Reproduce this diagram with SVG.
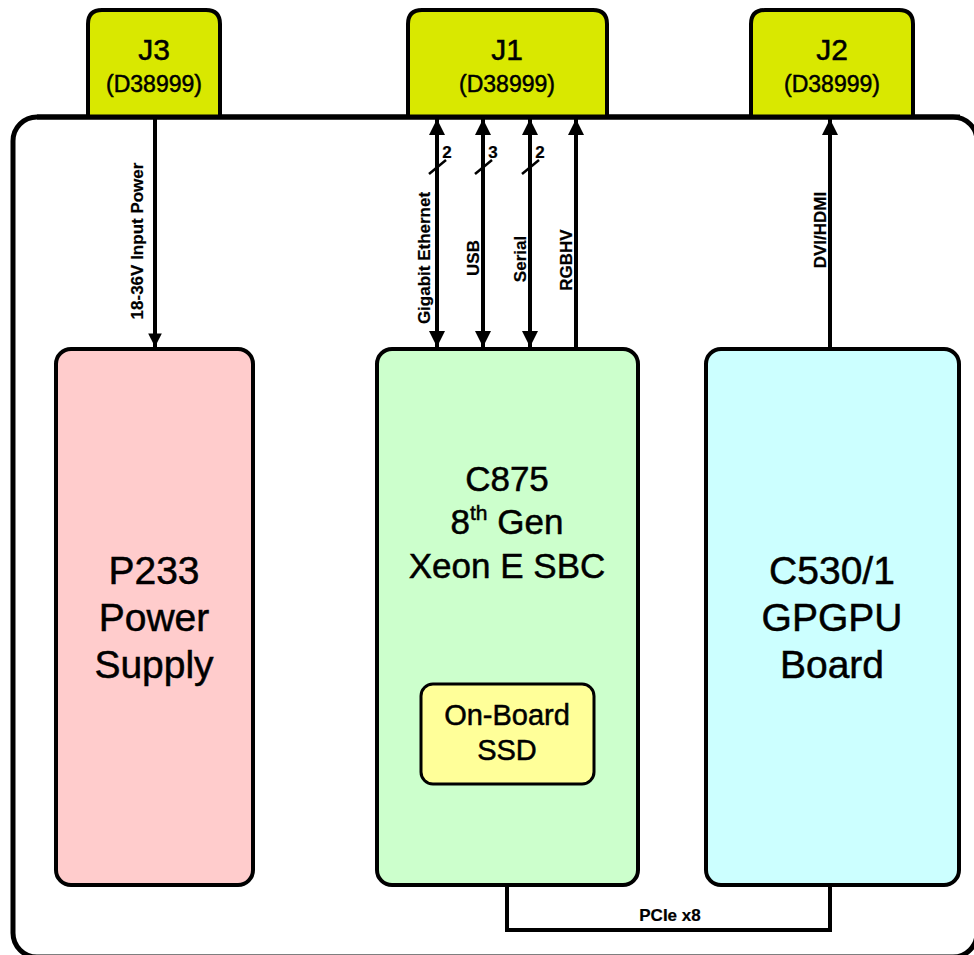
<svg xmlns="http://www.w3.org/2000/svg" width="974" height="955" viewBox="0 0 974 955">
<defs>
<marker id="ah" viewBox="0 0 10 10" refX="10" refY="5" markerWidth="4" markerHeight="4" orient="auto-start-reverse" markerUnits="strokeWidth"><path d="M0,0 L10,5 L0,10 z" fill="#000"/></marker>
<marker id="ah2" viewBox="0 0 10 10" refX="10" refY="5" markerWidth="3.4" markerHeight="3.4" orient="auto-start-reverse" markerUnits="strokeWidth"><path d="M0,0 L10,5 L0,10 z" fill="#000"/></marker>
</defs>
<style>
text{font-family:"Liberation Sans",Arial,sans-serif;fill:#000;stroke:#000;stroke-width:0.5}
.box{stroke:#000;stroke-width:4}
.conn{fill:#d9e800;stroke:#000;stroke-width:4}
.big{font-size:39px;text-anchor:middle}
.mid{font-size:35px;text-anchor:middle}
.jl{font-size:30px;text-anchor:middle}
.js{font-size:23px;text-anchor:middle}
.lab{font-size:17px;font-weight:bold;text-anchor:middle;stroke-width:0.2}
.wire{stroke:#000;stroke-width:4;fill:none}
</style>
<rect width="974" height="955" fill="#fff"/>
<g id="enclosure"><rect x="13" y="117" width="964" height="840" rx="24" fill="none" stroke="#000" stroke-width="5"/></g>
<g id="J3"><path class="conn" d="M88,117 V24 Q88,10 102,10 H206 Q220,10 220,24 V117"/><text class="jl" x="154" y="60">J3</text><text class="js" x="154" y="92">(D38999)</text></g>
<g id="J1"><path class="conn" d="M408,117 V24 Q408,10 422,10 H593 Q607,10 607,24 V117"/><text class="jl" x="507" y="60">J1</text><text class="js" x="507" y="92">(D38999)</text></g>
<g id="J2"><path class="conn" d="M751,117 V24 Q751,10 765,10 H899 Q913,10 913,24 V117"/><text class="jl" x="832" y="60">J2</text><text class="js" x="832" y="92">(D38999)</text></g>
<path d="M13,117 H960" stroke="#000" stroke-width="5" stroke-dasharray="0 24 936 100"/>
<g id="P233"><rect class="box" x="56" y="349" width="197" height="536" rx="15" fill="#ffcccc"/><text class="big" x="154" y="584">P233</text><text class="big" x="154" y="631">Power</text><text class="big" x="154" y="678">Supply</text></g>
<g id="C875"><rect class="box" x="377" y="349" width="261" height="536" rx="15" fill="#ccffcc"/><text class="mid" x="507" y="491">C875</text><text class="mid" x="507" y="534">8<tspan font-size="21" dy="-14">th</tspan><tspan dy="14"> Gen</tspan></text><text class="mid" x="507" y="578">Xeon E SBC</text></g>
<g id="SSD"><rect x="421" y="684" width="173" height="100" rx="12" fill="#ffff99" stroke="#000" stroke-width="3"/><text font-size="29" text-anchor="middle" x="507" y="725">On-Board</text><text font-size="29" text-anchor="middle" x="507" y="760">SSD</text></g>
<g id="C530"><rect class="box" x="706" y="349" width="253" height="536" rx="15" fill="#ccffff"/><text class="big" x="832" y="584">C530/1</text><text class="big" x="832" y="631">GPGPU</text><text class="big" x="832" y="678">Board</text></g>
<g id="connectors">
<line class="wire" x1="155" y1="119" x2="155" y2="347" stroke-width="5" marker-end="url(#ah2)"/>
<line class="wire" x1="437" y1="119" x2="437" y2="347" stroke-width="3.5" marker-start="url(#ah)" marker-end="url(#ah)"/>
<line class="wire" x1="483" y1="119" x2="483" y2="347" stroke-width="3.5" marker-start="url(#ah)" marker-end="url(#ah)"/>
<line class="wire" x1="530" y1="119" x2="530" y2="347" stroke-width="3.5" marker-start="url(#ah)" marker-end="url(#ah)"/>
<line class="wire" x1="576" y1="119" x2="576" y2="347" stroke-width="3.5" marker-start="url(#ah)"/>
<line class="wire" x1="830" y1="119" x2="830" y2="347" stroke-width="3.5" marker-start="url(#ah)"/>
<g stroke="#000" stroke-width="2.5"><line x1="429" y1="174" x2="446" y2="160"/><line x1="475" y1="174" x2="492" y2="160"/><line x1="522" y1="174" x2="539" y2="160"/></g>
<text class="lab" x="447" y="158" text-anchor="start">2</text><text class="lab" x="493" y="158" text-anchor="start">3</text><text class="lab" x="540" y="158" text-anchor="start">2</text>
<path class="wire" d="M507,885 V930 H830 V885" stroke-width="5"/>
<text class="lab" x="670" y="921">PCIe x8</text>
<text class="lab" transform="translate(143,241) rotate(-90)">18-36V Input Power</text>
<text class="lab" transform="translate(430,258) rotate(-90)">Gigabit Ethernet</text>
<text class="lab" transform="translate(479,258) rotate(-90)">USB</text>
<text class="lab" transform="translate(526,259) rotate(-90)">Serial</text>
<text class="lab" transform="translate(572,260) rotate(-90)">RGBHV</text>
<text class="lab" transform="translate(826,230) rotate(-90)">DVI/HDMI</text>
</g>
</svg>
